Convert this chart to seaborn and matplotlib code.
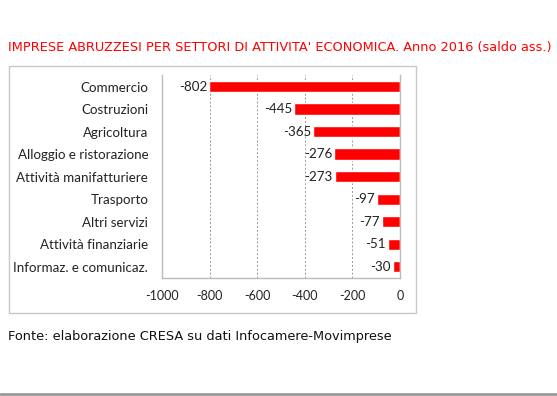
import pandas as pd
import matplotlib.pyplot as plt
import seaborn as sns
from matplotlib.patches import Rectangle
from matplotlib.lines import Line2D

# Dati: saldo imprese per settore (Abruzzo 2016)
settori = ['Commercio', 'Costruzioni', 'Agricoltura', 'Alloggio e ristorazione',
           'Attività manifatturiere', 'Trasporto', 'Altri servizi',
           'Attività finanziarie', 'Informaz. e comunicaz.']
saldo = [-802, -445, -365, -276, -273, -97, -77, -51, -30]
xticks = [-1000, -800, -600, -400, -200, 0]

df = pd.DataFrame({'Settore': settori, 'Saldo': saldo})

sns.set_style("white")
fig = plt.figure(figsize=(5.57, 3.96), dpi=100)
ax = fig.add_axes([0.291, 0.298, 0.427, 0.512])

sns.barplot(data=df, x='Saldo', y='Settore', color='#ff0000', saturation=1,
            width=0.5, orient='h', ax=ax)

ax.set_xlim(-1000, 0)
ax.set_xticks(xticks)
ax.set_xticklabels([str(t) for t in xticks], family='Lato', fontsize=9, color='#222222')
ax.set_yticklabels(settori, family='Lato', fontsize=9.6, color='#222222')
ax.set_xlabel('')
ax.set_ylabel('')
ax.tick_params(axis='x', length=0, pad=9)
ax.tick_params(axis='y', length=0, pad=10)

# griglia tratteggiata
for t in xticks[1:-1]:
    ax.axvline(t, color='#999999', linestyle=(0, (2, 2)), linewidth=0.7, zorder=0)

# spine
ax.spines['top'].set_visible(False)
for s in ['left', 'bottom', 'right']:
    ax.spines[s].set_color('#bbbbbb')
    ax.spines[s].set_linewidth(1)

# etichette dei valori
for i, v in enumerate(saldo):
    ax.text(v - 9, i, str(v), ha='right', va='center', family='Lato',
            fontsize=9.6, color='#222222')

# cornice del grafico
fig.patches.append(Rectangle((0.0162, 0.2096), 0.7307, 0.6237, transform=fig.transFigure,
                             fill=False, edgecolor='#c8c8c8', linewidth=1))
fig.lines.append(Line2D([0, 1], [0.004, 0.004], transform=fig.transFigure,
                        color='#999999', linewidth=2))

fig.text(0.014, 0.881, "IMPRESE ABRUZZESI PER SETTORI DI ATTIVITA' ECONOMICA. Anno 2016 (saldo ass.)",
         color='#ff0000', fontsize=9.3, family='DejaVu Sans', va='center', ha='left')
fig.text(0.014, 0.151, "Fonte: elaborazione CRESA su dati Infocamere-Movimprese",
         color='#111111', fontsize=9.3, family='DejaVu Sans', va='center', ha='left')

fig.savefig('out.png', dpi=100)
